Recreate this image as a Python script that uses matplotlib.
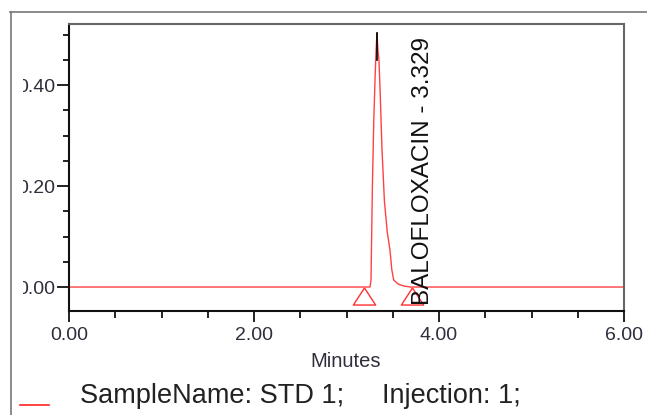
import matplotlib.pyplot as plt
from matplotlib.lines import Line2D
from matplotlib.patches import Rectangle

# Cromatograma - estandar STD 1 (lectura aproximada de la imagen)
tiempo = [0.00, 1.00, 2.00, 3.00, 3.254, 3.265, 3.280, 3.295, 3.310, 3.319, 3.329,
          3.340, 3.351, 3.365, 3.384, 3.410, 3.440, 3.470, 3.490, 3.510, 3.557,
          3.620, 3.690, 4.50, 5.00, 6.00]
senal = [0.000, 0.000, 0.000, 0.000, 0.000, 0.014, 0.200, 0.330, 0.420, 0.465, 0.503,
         0.470, 0.449, 0.380, 0.271, 0.170, 0.110, 0.073, 0.034, 0.014, 0.006,
         0.002, 0.000, 0.000, 0.000, 0.000]

pico_nombre = 'BALOFLOXACIN'
pico_tr = 3.329
pico_altura = 0.503
pico_marca = 0.449          # fin del segmento negro en el apice
inicio_fin_pico = [3.19, 3.71]  # marcadores de integracion

x_ticks = [0.0, 2.0, 4.0, 6.0]
y_ticks = [0.0, 0.2, 0.4]

muestra = 'SampleName: STD 1;'
inyeccion = 'Injection: 1;'

color_texto = '#2e2e3c'
W, H = 647, 415

fig = plt.figure(figsize=(6.47, 4.15), dpi=100)
ax = fig.add_axes([69 / W, 1 - 311 / H, 555 / W, 287 / H])

ax.plot(tiempo, senal, color='#ff2020', linewidth=1.0, alpha=0.85)
ax.plot([pico_tr, pico_tr], [pico_marca, pico_altura], color='black', linewidth=1.2)

# triangulos de inicio / fin del pico
tri = [(0, 1), (-1.3, -1), (1.3, -1), (0, 1)]
ax.plot(inicio_fin_pico, [-0.017, -0.017], linestyle='none', marker=tri,
        markersize=16, markerfacecolor='none', markeredgecolor='#ff3030',
        markeredgewidth=1.0)

ax.text(3.83, -0.036, f'{pico_nombre} - {pico_tr:.3f}', rotation=90,
        ha='center', va='bottom', fontsize=17.5, family='Liberation Sans',
        color='#111111')

ax.set_xlim(0, 6)
ax.set_ylim(-0.0475, 0.521)
ax.set_xticks(x_ticks)
ax.set_xticks([i * 0.5 for i in range(13)], minor=True)
ax.set_yticks(y_ticks)
ax.set_yticks([i * 0.05 for i in range(11)], minor=True)
ax.set_xticklabels([f'{v:.2f}' for v in x_ticks])
ax.set_yticklabels([f'{v:.2f}' for v in y_ticks])

ax.tick_params(which='both', direction='out', width=1.4, color='#222222',
               labelsize=14, labelcolor=color_texto)
ax.tick_params(axis='x', which='major', length=8, pad=3.5)
ax.tick_params(axis='x', which='minor', length=5)
ax.tick_params(axis='y', which='major', length=8.5, pad=1.5)
ax.tick_params(axis='y', which='minor', length=4.5)
for lab in ax.get_xticklabels() + ax.get_yticklabels():
    lab.set_family('Liberation Sans')

for lado in ['left', 'bottom']:
    ax.spines[lado].set_linewidth(1.5)
    ax.spines[lado].set_color('#111111')
for lado in ['top', 'right']:
    ax.spines[lado].set_linewidth(1.5)
    ax.spines[lado].set_color('#666666')

fig.text(346 / W, 1 - 367 / H, 'Minutes', fontsize=14.5, family='Liberation Sans',
         color=color_texto, ha='center', va='baseline')

# leyenda inferior
fig.add_artist(Line2D([20 / W, 49 / W], [1 - 405 / H, 1 - 405 / H],
                      color='#ff2020', linewidth=1.2))
fig.text(80 / W, 1 - 403 / H, muestra, fontsize=19.5, family='Liberation Sans',
         color='#222222', ha='left', va='baseline')
fig.text(382 / W, 1 - 403 / H, inyeccion, fontsize=19.5, family='Liberation Sans',
         color='#222222', ha='left', va='baseline')

# las etiquetas del eje y aparecen recortadas por la izquierda
fig.add_artist(Rectangle((12 / W, 60 / H), 11 / W, 300 / H, facecolor='white',
                         edgecolor='none', zorder=5))

# marco exterior
fig.add_artist(Line2D([10 / W, 1.0], [1 - 12 / H, 1 - 12 / H],
                      color='#777777', linewidth=1.2, zorder=6))
fig.add_artist(Line2D([11 / W, 11 / W], [0.0, 1 - 12 / H],
                      color='#777777', linewidth=1.2, zorder=6))

plt.savefig('out.png', dpi=100, facecolor='white')
